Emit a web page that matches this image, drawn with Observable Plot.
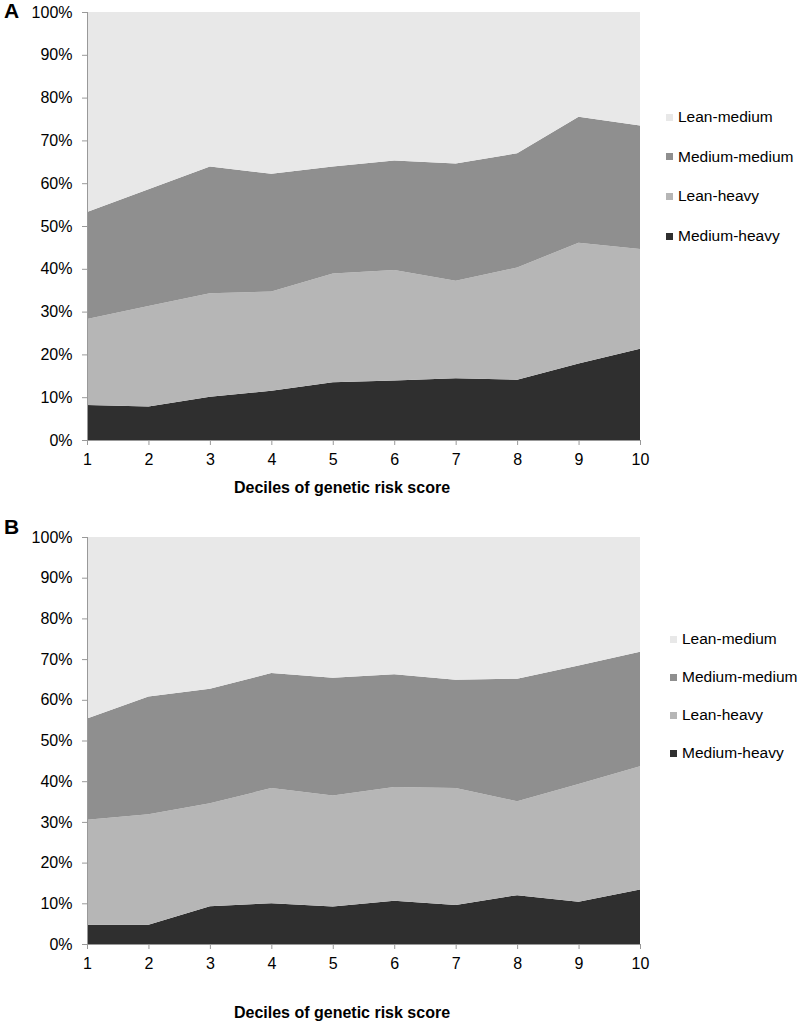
<!DOCTYPE html>
<html>
<head>
<meta charset="utf-8">
<script src="https://cdn.jsdelivr.net/npm/d3@7"></script>
<script src="https://cdn.jsdelivr.net/npm/@observablehq/plot@0.6"></script>
<style>
  html, body { margin: 0; padding: 0; background: #fff; }
  body { width: 800px; height: 1030px; position: relative; font-family: "Liberation Sans", Arial, sans-serif; overflow: hidden; }
  .panel { position: absolute; left: 0; width: 800px; }
  .tag { position: absolute; font-weight: bold; font-size: 21px; color: #000; }
  .legend { position: absolute; font-size: 15.5px; color: #000; }
  .legend .item { position: absolute; white-space: nowrap; display: flex; align-items: center; }
  .legend .sw { width: 7px; height: 7px; margin-right: 5px; display: inline-block; }
</style>
</head>
<body>
<div id="root"></div>
<script>
const deciles = [1, 2, 3, 4, 5, 6, 7, 8, 9, 10];
const series = ["Medium-heavy", "Lean-heavy", "Medium-medium", "Lean-medium"];
const legendOrder = ["Lean-medium", "Medium-medium", "Lean-heavy", "Medium-heavy"];
const colors = ["#2f2f2f", "#b6b6b6", "#8f8f8f", "#e8e8e8"];
const yTicks = [0, 10, 20, 30, 40, 50, 60, 70, 80, 90, 100];
const xLabel = "Deciles of genetic risk score";

// Panel A shares (%)
const aMediumHeavy = [8.2, 7.8, 10.1, 11.5, 13.5, 13.9, 14.4, 14.1, 17.9, 21.3];
const aLeanHeavy = [20.1, 23.5, 24.2, 23.2, 25.4, 25.8, 22.8, 26.2, 28.2, 23.3];
const aMediumMedium = [25.0, 27.3, 29.6, 27.5, 25.0, 25.6, 27.4, 26.7, 29.4, 28.9];
const aLeanMedium = [46.7, 41.4, 36.1, 37.8, 36.1, 34.7, 35.4, 33.0, 24.5, 26.5];

// Panel B shares (%)
const bMediumHeavy = [4.7, 4.7, 9.3, 10.0, 9.2, 10.6, 9.6, 12.0, 10.4, 13.4];
const bLeanHeavy = [25.8, 27.2, 25.3, 28.3, 27.3, 28.0, 28.7, 23.1, 28.9, 30.3];
const bMediumMedium = [24.9, 28.9, 28.1, 28.3, 28.9, 27.7, 26.6, 30.1, 29.1, 28.1];
const bLeanMedium = [44.6, 39.2, 37.3, 33.4, 34.6, 33.7, 35.1, 34.8, 31.6, 28.2];

function table(arrs) {
  const rows = [];
  series.forEach((s, i) => deciles.forEach((d, j) => rows.push({decile: d, group: s, value: arrs[i][j]})));
  return rows;
}

function panel(rows, opts) {
  return Plot.plot({
    width: 800,
    height: opts.height,
    marginTop: opts.marginTop,
    marginBottom: opts.marginBottom,
    marginLeft: 87,
    marginRight: 160,
    style: {fontFamily: '"Liberation Sans", Arial, sans-serif', fontSize: "16px", color: "#000", background: "#fff"},
    x: {domain: [1, 10]},
    y: {domain: [0, 100]},
    color: {domain: series, range: colors},
    marks: [
      Plot.areaY(rows, {x: "decile", y: "value", fill: "group", order: series, curve: "linear"}),
      Plot.axisY({ticks: yTicks, tickFormat: d => d + "%", tickSize: 5, tickPadding: 10, stroke: "#999", label: null, fill: "#000"}),
      Plot.axisX({ticks: deciles, tickFormat: d => String(d), tickSize: 5, tickPadding: 8, stroke: "#999", label: null, fill: "#000"}),
      Plot.ruleX([1], {stroke: "#999"}),
      Plot.ruleY([0], {stroke: "#999"}),
      Plot.text([xLabel], {frameAnchor: "bottom", dy: opts.labelDy, dx: -22, fontWeight: "bold", fontSize: 16, fill: "#000"})
    ]
  });
}

const root = document.getElementById("root");

function addPanel(top, rows, opts, tag, tagTop, legendTop, legendStep, legendLeft) {
  const div = document.createElement("div");
  div.className = "panel";
  div.style.top = top + "px";
  div.appendChild(panel(rows, opts));
  root.appendChild(div);
  const t = document.createElement("div");
  t.className = "tag"; t.textContent = tag;
  t.style.left = "4px"; t.style.top = tagTop + "px";
  root.appendChild(t);
  const lg = document.createElement("div");
  lg.className = "legend";
  lg.style.left = legendLeft + "px"; lg.style.top = legendTop + "px";
  legendOrder.forEach((name, i) => {
    const it = document.createElement("div");
    it.className = "item";
    it.style.top = (i * legendStep) + "px";
    const sw = document.createElement("span");
    sw.className = "sw";
    sw.style.background = colors[series.indexOf(name)];
    it.appendChild(sw);
    it.appendChild(document.createTextNode(name));
    lg.appendChild(it);
  });
  root.appendChild(lg);
}

addPanel(0, table([aMediumHeavy, aLeanHeavy, aMediumMedium, aLeanMedium]),
  {height: 505, marginTop: 12, marginBottom: 65, labelDy: 52},
  "A", -1, 108, 39.7, 666);
addPanel(505, table([bMediumHeavy, bLeanHeavy, bMediumMedium, bLeanMedium]),
  {height: 525, marginTop: 32, marginBottom: 86, labelDy: 73},
  "B", 515, 630, 38, 670);
</script>
</body>
</html>
